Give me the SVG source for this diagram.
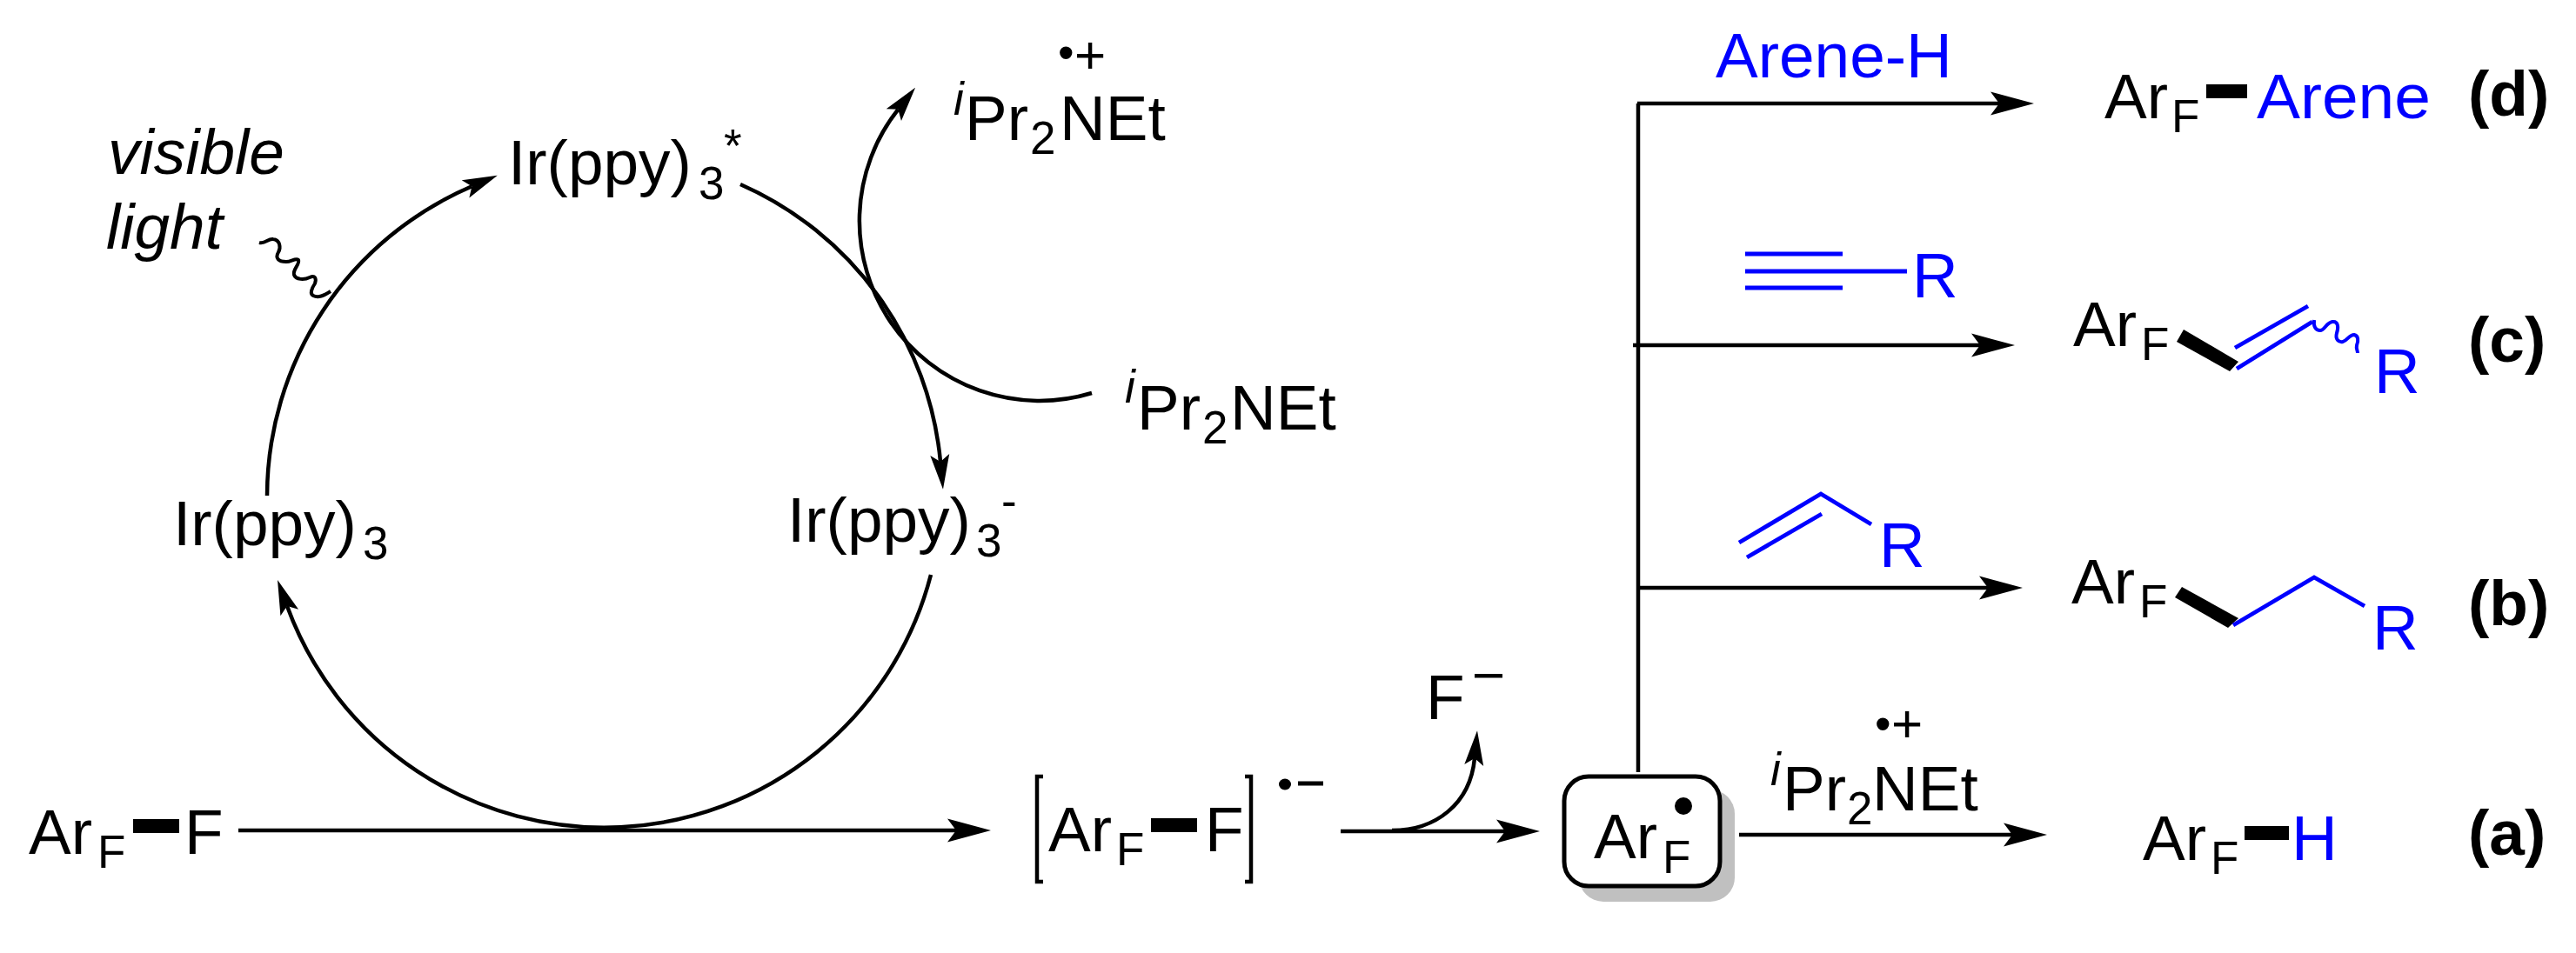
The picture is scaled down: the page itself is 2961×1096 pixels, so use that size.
<svg xmlns="http://www.w3.org/2000/svg" width="2961" height="1096" viewBox="0 0 2961 1096">
<style>
text{font-family:"Liberation Sans",Arial,sans-serif;font-size:73px;fill:#000}
.s{font-size:53px}
.p{font-size:62px}
.i{font-style:italic}
.bl{fill:#00f}
.b{font-weight:bold}
.ln{fill:none;stroke:#000;stroke-width:4.5}
.thin{fill:none;stroke:#000;stroke-width:4}
.blu{fill:none;stroke:#00f;stroke-width:4.8}
.wave{stroke-width:4}
.straight{marker-end:url(#big)}
.curved{marker-end:url(#small)}
.bond{fill:#000}
</style>
<defs>
<marker id="big" markerUnits="userSpaceOnUse" markerWidth="60" markerHeight="32" refX="10" refY="16" orient="auto"><path d="M0 2.500L50 16L0 29.500L10 16z"/></marker>
<marker id="small" markerUnits="userSpaceOnUse" markerWidth="50" markerHeight="26" refX="8" refY="13" orient="auto"><path d="M0 2L40 13L0 24L8 13z"/></marker>
</defs>
<rect width="2961" height="1096" fill="#fff"/>
<g id="connectors">
<path class="ln curved" d="M307 570A388 388 0 0 1 542.400 214.300"/>
<path class="ln curved" d="M851 212A388 388 0 0 1 1081 531"/>
<path class="ln curved" d="M1070 661A388 388 0 0 1 330 697"/>
<path class="ln curved" d="M1255 452A207 207 0 0 1 1032.300 125.800"/>
<path class="thin" d="M298 279C305 281 308 274 314 275C322 276 323 285 320 290C316 297 320 301 329 301C335 301 340 296 343 299C345 304 336 310 338 316C340 322 350 322 356 319C362 316 364 320 362 326C358 332 356 338 360 340C366 343 372 340 380 335"/>
<path class="ln straight" d="M274 955H1099"/>
<path class="ln straight" d="M1541 956H1730"/>
<path class="ln curved" d="M1600 955C1650 955 1690 925 1695 872"/>
<path class="ln" d="M1883 888V119"/>
<path class="ln straight" d="M1882 119H2298"/>
<path class="ln straight" d="M1877 397H2276"/>
<path class="ln straight" d="M1885 676H2285"/>
<path class="ln straight" d="M1999 960H2313"/>
</g>
<g id="ir-star">
<text x="584" y="212">Ir(ppy)<tspan class="s" x="803" y="229">3</tspan><tspan class="s" x="832" y="186">*</tspan></text>
</g>
<g id="visible-light">
<text class="i" x="124" y="200">visible</text>
<text class="i" x="122" y="286">light</text>
</g>
<g id="amine-cation">
<text class="s" x="1216" y="79">•</text>
<text class="p" x="1235" y="84">+</text>
<text class="s i" x="1096" y="132">i</text>
<text x="1109" y="161">Pr<tspan class="s" x="1184" y="177">2</tspan><tspan x="1218" y="161">NEt</tspan></text>
</g>
<g id="amine">
<text class="s i" x="1293" y="463">i</text>
<text x="1307" y="494">Pr<tspan class="s" x="1382" y="510">2</tspan><tspan x="1414" y="494">NEt</tspan></text>
</g>
<g id="ir-ground">
<text x="199" y="627">Ir(ppy)<tspan class="s" x="417" y="643">3</tspan></text>
</g>
<g id="ir-minus">
<text x="905" y="623">Ir(ppy)<tspan class="s" x="1122" y="640">3</tspan><tspan class="s" x="1151" y="594">-</tspan></text>
</g>
<g id="arf-f">
<text x="33" y="982">Ar<tspan class="s" x="112" y="998">F</tspan></text>
<rect class="bond" x="153" y="942" width="53" height="16"/>
<text x="212" y="982">F</text>
</g>
<g id="radical-anion">
<path class="ln" d="M1199 893H1192V1014H1199M1431 893H1438V1014H1431"/>
<text x="1205" y="979">Ar<tspan class="s" x="1283" y="995">F</tspan></text>
<rect class="bond" x="1323" y="941" width="53" height="16"/>
<text x="1385" y="979">F</text>
<ellipse cx="1477" cy="902" rx="7" ry="6.500"/>
<rect class="bond" x="1492" y="898.500" width="29" height="5"/>
</g>
<g id="fluoride">
<text x="1639" y="827">F</text>
<rect class="bond" x="1695" y="775" width="32" height="4.500"/>
</g>
<g id="arf-radical">
<rect x="1815" y="908" width="179" height="129" rx="28" fill="#c0c0c0"/>
<rect x="1798" y="893" width="179" height="126" rx="28" fill="#fff" stroke="#000" stroke-width="5"/>
<text x="1832" y="987">Ar<tspan class="s" x="1911" y="1004">F</tspan></text>
<circle cx="1935" cy="927" r="10"/>
</g>
<g id="arene-h">
<text class="bl" x="1972" y="89">Arene-H</text>
</g>
<g id="product-d">
<text x="2419" y="136">Ar<tspan class="s" x="2496" y="152">F</tspan></text>
<rect class="bond" x="2536" y="97" width="47" height="16"/>
<text class="bl" x="2594" y="136" textLength="200" lengthAdjust="spacingAndGlyphs">Arene</text>
<text class="b" x="2837" y="133">(d)</text>
</g>
<g id="alkyne">
<path class="blu" d="M2006 292H2118M2006 312H2192M2006 331H2118"/>
<text class="bl" x="2198" y="342">R</text>
</g>
<g id="product-c">
<text x="2383" y="398">Ar<tspan class="s" x="2461" y="414">F</tspan></text>
<path class="bond" d="M2510 379L2573 416L2563 427L2502 393z"/>
<path class="blu" d="M2571 424L2658 370M2569 400L2653 352"/>
<path class="blu wave" d="M2660 368C2659 376 2662 380 2667 380C2672 380 2674 371 2681 370C2688 369 2688 377 2686 383C2684 390 2688 394 2693 393C2698 392 2700 385 2706 385C2711 386 2711 392 2709 397C2708 401 2710 403 2710 406"/>
<text class="bl" x="2729" y="452">R</text>
<text class="b" x="2837" y="416">(c)</text>
</g>
<g id="alkene">
<path class="blu" d="M1999 624L2093 568L2151 603M2008 641L2094 591"/>
<text class="bl" x="2160" y="652">R</text>
</g>
<g id="product-b">
<text x="2381" y="694">Ar<tspan class="s" x="2459" y="710">F</tspan></text>
<path class="bond" d="M2508 675L2573 711L2561 722L2500 687z"/>
<path class="blu" d="M2567 719L2660 664L2718 697"/>
<text class="bl" x="2727" y="747">R</text>
<text class="b" x="2837" y="719">(b)</text>
</g>
<g id="amine-cation-a">
<text class="s" x="2155" y="851">•</text>
<text class="p" x="2174" y="853">+</text>
<text class="s i" x="2035" y="903">i</text>
<text x="2049" y="932">Pr<tspan class="s" x="2123" y="948">2</tspan><tspan x="2152" y="932">NEt</tspan></text>
</g>
<g id="product-a">
<text x="2463" y="989">Ar<tspan class="s" x="2541" y="1005">F</tspan></text>
<rect class="bond" x="2580" y="950" width="51" height="16"/>
<text class="bl" x="2634" y="989">H</text>
<text class="b" x="2837" y="983">(a)</text>
</g>
</svg>
